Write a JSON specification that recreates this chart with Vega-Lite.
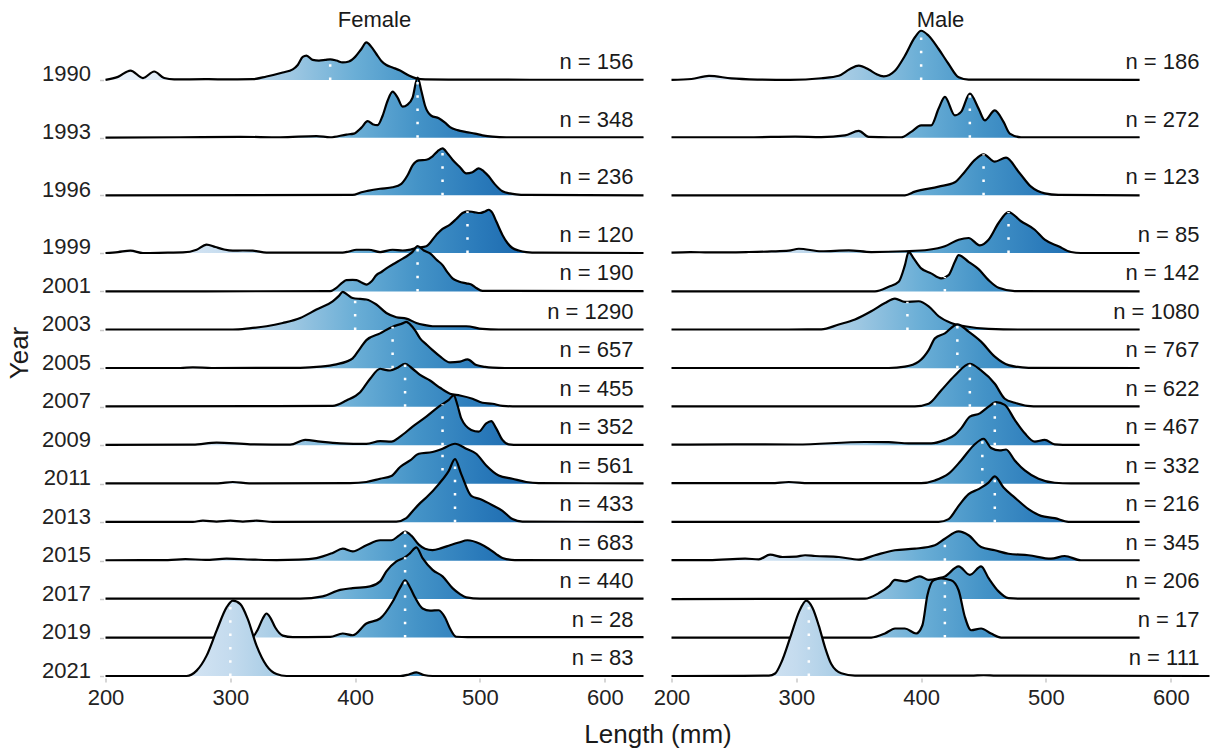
{
"$schema":"https://vega.github.io/schema/vega-lite/v6.json",
"background":"white",
"padding":{"left":6.5,"top":9,"right":0,"bottom":0},
"params":[
{"name":"gf","value":{"gradient":"linear","x1":0,"y1":0,"x2":1,"y2":0,"stops":[{"offset":0,"color":"#eef4fb"},{"offset":0.116,"color":"#dce9f6"},{"offset":0.232,"color":"#c4dbee"},{"offset":0.348,"color":"#9dc7e2"},{"offset":0.464,"color":"#6aaed6"},{"offset":0.58,"color":"#4493c7"},{"offset":0.696,"color":"#2a7aba"},{"offset":0.812,"color":"#1763aa"},{"offset":1,"color":"#08509b"}]}},
{"name":"gm","value":{"gradient":"linear","x1":0,"y1":0,"x2":1,"y2":0,"stops":[{"offset":0,"color":"#eef4fb"},{"offset":0.133,"color":"#dce9f6"},{"offset":0.267,"color":"#c4dbee"},{"offset":0.4,"color":"#9dc7e2"},{"offset":0.533,"color":"#6aaed6"},{"offset":0.667,"color":"#4493c7"},{"offset":0.8,"color":"#2a7aba"},{"offset":0.933,"color":"#1763aa"},{"offset":1,"color":"#125da5"}]}}
],
"title":{"text":"Length (mm)","orient":"bottom","anchor":"middle","frame":"group","dx":552.5,"fontSize":26,"fontWeight":"normal","color":"#1a1a1a","offset":14},
"data":{"values":[
{"s":"F","yr":1990,"x":200,"t":1990},{"s":"F","yr":1990,"x":210,"t":1989.84},{"s":"F","yr":1990,"x":220,"t":1989.51},{"s":"F","yr":1990,"x":230,"t":1989.9},{"s":"F","yr":1990,"x":239,"t":1989.56},{"s":"F","yr":1990,"x":247,"t":1989.9},{"s":"F","yr":1990,"x":255,"t":1989.97},{"s":"F","yr":1990,"x":280,"t":1989.96},{"s":"F","yr":1990,"x":300,"t":1989.97},{"s":"F","yr":1990,"x":318,"t":1989.96},{"s":"F","yr":1990,"x":329,"t":1989.82},{"s":"F","yr":1990,"x":342,"t":1989.61},{"s":"F","yr":1990,"x":350,"t":1989.45},{"s":"F","yr":1990,"x":354,"t":1989.22},{"s":"F","yr":1990,"x":358,"t":1988.8},{"s":"F","yr":1990,"x":361,"t":1988.73},{"s":"F","yr":1990,"x":366,"t":1988.96},{"s":"F","yr":1990,"x":371,"t":1988.99},{"s":"F","yr":1990,"x":376,"t":1988.96},{"s":"F","yr":1990,"x":380,"t":1988.93},{"s":"F","yr":1990,"x":385,"t":1988.99},{"s":"F","yr":1990,"x":390,"t":1989.09},{"s":"F","yr":1990,"x":395,"t":1989.04},{"s":"F","yr":1990,"x":400,"t":1988.8},{"s":"F","yr":1990,"x":405,"t":1988.39},{"s":"F","yr":1990,"x":409,"t":1988.05},{"s":"F","yr":1990,"x":413,"t":1988.28},{"s":"F","yr":1990,"x":417,"t":1988.65},{"s":"F","yr":1990,"x":421,"t":1989.01},{"s":"F","yr":1990,"x":425,"t":1989.22},{"s":"F","yr":1990,"x":430,"t":1989.35},{"s":"F","yr":1990,"x":436,"t":1989.51},{"s":"F","yr":1990,"x":443,"t":1989.77},{"s":"F","yr":1990,"x":449,"t":1989.92},{"s":"F","yr":1990,"x":456,"t":1989.97},{"s":"F","yr":1990,"x":480,"t":1989.98},{"s":"F","yr":1990,"x":540,"t":1989.99},{"s":"F","yr":1990,"x":631,"t":1989.99},
{"s":"F","yr":1993,"x":200,"t":1993},{"s":"F","yr":1993,"x":260,"t":1992.98},{"s":"F","yr":1993,"x":308,"t":1992.96},{"s":"F","yr":1993,"x":340,"t":1992.98},{"s":"F","yr":1993,"x":369,"t":1992.92},{"s":"F","yr":1993,"x":380,"t":1992.98},{"s":"F","yr":1993,"x":393,"t":1992.84},{"s":"F","yr":1993,"x":399,"t":1992.79},{"s":"F","yr":1993,"x":405,"t":1992.48},{"s":"F","yr":1993,"x":410,"t":1992.14},{"s":"F","yr":1993,"x":414,"t":1992.3},{"s":"F","yr":1993,"x":418,"t":1992.35},{"s":"F","yr":1993,"x":422,"t":1991.86},{"s":"F","yr":1993,"x":426,"t":1991.08},{"s":"F","yr":1993,"x":430,"t":1990.61},{"s":"F","yr":1993,"x":434,"t":1990.92},{"s":"F","yr":1993,"x":438,"t":1991.39},{"s":"F","yr":1993,"x":442,"t":1991.28},{"s":"F","yr":1993,"x":446,"t":1990.92},{"s":"F","yr":1993,"x":450,"t":1989.88},{"s":"F","yr":1993,"x":453,"t":1990.56},{"s":"F","yr":1993,"x":456,"t":1991.34},{"s":"F","yr":1993,"x":461,"t":1991.86},{"s":"F","yr":1993,"x":467,"t":1991.99},{"s":"F","yr":1993,"x":472,"t":1992.22},{"s":"F","yr":1993,"x":476,"t":1992.45},{"s":"F","yr":1993,"x":482,"t":1992.61},{"s":"F","yr":1993,"x":489,"t":1992.71},{"s":"F","yr":1993,"x":496,"t":1992.79},{"s":"F","yr":1993,"x":502,"t":1992.88},{"s":"F","yr":1993,"x":510,"t":1992.95},{"s":"F","yr":1993,"x":521,"t":1992.98},{"s":"F","yr":1993,"x":631,"t":1992.98},
{"s":"F","yr":1996,"x":200,"t":1996},{"s":"F","yr":1996,"x":398,"t":1995.98},{"s":"F","yr":1996,"x":405,"t":1995.84},{"s":"F","yr":1996,"x":410,"t":1995.77},{"s":"F","yr":1996,"x":420,"t":1995.66},{"s":"F","yr":1996,"x":430,"t":1995.58},{"s":"F","yr":1996,"x":437,"t":1995.4},{"s":"F","yr":1996,"x":442,"t":1994.96},{"s":"F","yr":1996,"x":446,"t":1994.44},{"s":"F","yr":1996,"x":451,"t":1994.18},{"s":"F","yr":1996,"x":457,"t":1994.15},{"s":"F","yr":1996,"x":462,"t":1993.97},{"s":"F","yr":1996,"x":466,"t":1993.71},{"s":"F","yr":1996,"x":470,"t":1993.56},{"s":"F","yr":1996,"x":474,"t":1993.82},{"s":"F","yr":1996,"x":478,"t":1994.15},{"s":"F","yr":1996,"x":484,"t":1994.54},{"s":"F","yr":1996,"x":489,"t":1994.86},{"s":"F","yr":1996,"x":494,"t":1994.8},{"s":"F","yr":1996,"x":499,"t":1994.6},{"s":"F","yr":1996,"x":503,"t":1994.75},{"s":"F","yr":1996,"x":507,"t":1995.01},{"s":"F","yr":1996,"x":512,"t":1995.43},{"s":"F","yr":1996,"x":518,"t":1995.79},{"s":"F","yr":1996,"x":524,"t":1995.9},{"s":"F","yr":1996,"x":529,"t":1995.95},{"s":"F","yr":1996,"x":537,"t":1995.98},{"s":"F","yr":1996,"x":631,"t":1996},
{"s":"F","yr":1999,"x":200,"t":1999},{"s":"F","yr":1999,"x":210,"t":1998.95},{"s":"F","yr":1999,"x":220,"t":1998.88},{"s":"F","yr":1999,"x":230,"t":1999},{"s":"F","yr":1999,"x":250,"t":1998.98},{"s":"F","yr":1999,"x":262,"t":1998.97},{"s":"F","yr":1999,"x":273,"t":1998.83},{"s":"F","yr":1999,"x":281,"t":1998.56},{"s":"F","yr":1999,"x":288,"t":1998.69},{"s":"F","yr":1999,"x":295,"t":1998.82},{"s":"F","yr":1999,"x":302,"t":1998.88},{"s":"F","yr":1999,"x":310,"t":1998.87},{"s":"F","yr":1999,"x":318,"t":1998.88},{"s":"F","yr":1999,"x":329,"t":1998.98},{"s":"F","yr":1999,"x":390,"t":1998.98},{"s":"F","yr":1999,"x":395,"t":1998.92},{"s":"F","yr":1999,"x":401,"t":1998.83},{"s":"F","yr":1999,"x":411,"t":1998.83},{"s":"F","yr":1999,"x":420,"t":1998.95},{"s":"F","yr":1999,"x":430,"t":1998.83},{"s":"F","yr":1999,"x":438,"t":1998.87},{"s":"F","yr":1999,"x":443,"t":1998.84},{"s":"F","yr":1999,"x":449,"t":1998.74},{"s":"F","yr":1999,"x":457,"t":1998.65},{"s":"F","yr":1999,"x":465,"t":1998.06},{"s":"F","yr":1999,"x":470,"t":1997.75},{"s":"F","yr":1999,"x":476,"t":1997.52},{"s":"F","yr":1999,"x":481,"t":1997.23},{"s":"F","yr":1999,"x":486,"t":1996.92},{"s":"F","yr":1999,"x":490,"t":1996.83},{"s":"F","yr":1999,"x":495,"t":1996.87},{"s":"F","yr":1999,"x":500,"t":1996.92},{"s":"F","yr":1999,"x":504,"t":1996.84},{"s":"F","yr":1999,"x":507,"t":1996.75},{"s":"F","yr":1999,"x":510,"t":1996.92},{"s":"F","yr":1999,"x":513,"t":1997.35},{"s":"F","yr":1999,"x":518,"t":1998.06},{"s":"F","yr":1999,"x":522,"t":1998.48},{"s":"F","yr":1999,"x":526,"t":1998.74},{"s":"F","yr":1999,"x":531,"t":1998.87},{"s":"F","yr":1999,"x":537,"t":1998.95},{"s":"F","yr":1999,"x":547,"t":1998.98},{"s":"F","yr":1999,"x":631,"t":1999},
{"s":"F","yr":2001,"x":200,"t":2001},{"s":"F","yr":2001,"x":380,"t":2000.98},{"s":"F","yr":2001,"x":385,"t":2000.81},{"s":"F","yr":2001,"x":390,"t":2000.53},{"s":"F","yr":2001,"x":393,"t":2000.41},{"s":"F","yr":2001,"x":398,"t":2000.4},{"s":"F","yr":2001,"x":401,"t":2000.41},{"s":"F","yr":2001,"x":405,"t":2000.53},{"s":"F","yr":2001,"x":409,"t":2000.64},{"s":"F","yr":2001,"x":413,"t":2000.48},{"s":"F","yr":2001,"x":417,"t":2000.15},{"s":"F","yr":2001,"x":421,"t":1999.99},{"s":"F","yr":2001,"x":425,"t":1999.8},{"s":"F","yr":2001,"x":430,"t":1999.6},{"s":"F","yr":2001,"x":436,"t":1999.37},{"s":"F","yr":2001,"x":441,"t":1999.18},{"s":"F","yr":2001,"x":446,"t":1998.94},{"s":"F","yr":2001,"x":450,"t":1998.64},{"s":"F","yr":2001,"x":455,"t":1998.87},{"s":"F","yr":2001,"x":460,"t":1999.02},{"s":"F","yr":2001,"x":465,"t":1999.34},{"s":"F","yr":2001,"x":470,"t":1999.63},{"s":"F","yr":2001,"x":474,"t":2000.01},{"s":"F","yr":2001,"x":478,"t":2000.32},{"s":"F","yr":2001,"x":483,"t":2000.48},{"s":"F","yr":2001,"x":489,"t":2000.58},{"s":"F","yr":2001,"x":493,"t":2000.64},{"s":"F","yr":2001,"x":497,"t":2000.82},{"s":"F","yr":2001,"x":502,"t":2000.97},{"s":"F","yr":2001,"x":631,"t":2000.98},
{"s":"F","yr":2003,"x":200,"t":2002.98},{"s":"F","yr":2003,"x":302,"t":2002.98},{"s":"F","yr":2003,"x":315,"t":2002.92},{"s":"F","yr":2003,"x":329,"t":2002.81},{"s":"F","yr":2003,"x":342,"t":2002.64},{"s":"F","yr":2003,"x":356,"t":2002.38},{"s":"F","yr":2003,"x":369,"t":2001.94},{"s":"F","yr":2003,"x":382,"t":2001.51},{"s":"F","yr":2003,"x":387,"t":2001.23},{"s":"F","yr":2003,"x":390,"t":2001.02},{"s":"F","yr":2003,"x":394,"t":2001.18},{"s":"F","yr":2003,"x":398,"t":2001.34},{"s":"F","yr":2003,"x":404,"t":2001.39},{"s":"F","yr":2003,"x":409,"t":2001.42},{"s":"F","yr":2003,"x":417,"t":2001.68},{"s":"F","yr":2003,"x":425,"t":2002.12},{"s":"F","yr":2003,"x":433,"t":2002.34},{"s":"F","yr":2003,"x":441,"t":2002.41},{"s":"F","yr":2003,"x":449,"t":2002.64},{"s":"F","yr":2003,"x":455,"t":2002.74},{"s":"F","yr":2003,"x":462,"t":2002.81},{"s":"F","yr":2003,"x":475,"t":2002.81},{"s":"F","yr":2003,"x":489,"t":2002.81},{"s":"F","yr":2003,"x":502,"t":2002.95},{"s":"F","yr":2003,"x":515,"t":2002.98},{"s":"F","yr":2003,"x":631,"t":2002.98},
{"s":"F","yr":2005,"x":200,"t":2004.98},{"s":"F","yr":2005,"x":260,"t":2004.98},{"s":"F","yr":2005,"x":270,"t":2004.95},{"s":"F","yr":2005,"x":285,"t":2004.98},{"s":"F","yr":2005,"x":356,"t":2004.97},{"s":"F","yr":2005,"x":372,"t":2004.91},{"s":"F","yr":2005,"x":385,"t":2004.79},{"s":"F","yr":2005,"x":393,"t":2004.65},{"s":"F","yr":2005,"x":398,"t":2004.48},{"s":"F","yr":2005,"x":404,"t":2003.96},{"s":"F","yr":2005,"x":409,"t":2003.53},{"s":"F","yr":2005,"x":420,"t":2003.18},{"s":"F","yr":2005,"x":430,"t":2002.83},{"s":"F","yr":2005,"x":438,"t":2002.66},{"s":"F","yr":2005,"x":441,"t":2002.58},{"s":"F","yr":2005,"x":444,"t":2002.71},{"s":"F","yr":2005,"x":448,"t":2003.02},{"s":"F","yr":2005,"x":452,"t":2003.44},{"s":"F","yr":2005,"x":457,"t":2003.75},{"s":"F","yr":2005,"x":462,"t":2004.05},{"s":"F","yr":2005,"x":468,"t":2004.38},{"s":"F","yr":2005,"x":476,"t":2004.69},{"s":"F","yr":2005,"x":484,"t":2004.65},{"s":"F","yr":2005,"x":490,"t":2004.53},{"s":"F","yr":2005,"x":497,"t":2004.83},{"s":"F","yr":2005,"x":504,"t":2004.92},{"s":"F","yr":2005,"x":510,"t":2004.96},{"s":"F","yr":2005,"x":520,"t":2004.98},{"s":"F","yr":2005,"x":631,"t":2004.98},
{"s":"F","yr":2007,"x":200,"t":2006.98},{"s":"F","yr":2007,"x":382,"t":2006.95},{"s":"F","yr":2007,"x":393,"t":2006.67},{"s":"F","yr":2007,"x":404,"t":2006.24},{"s":"F","yr":2007,"x":412,"t":2005.54},{"s":"F","yr":2007,"x":420,"t":2005.02},{"s":"F","yr":2007,"x":424,"t":2005.08},{"s":"F","yr":2007,"x":428,"t":2005.11},{"s":"F","yr":2007,"x":434,"t":2004.97},{"s":"F","yr":2007,"x":440,"t":2004.76},{"s":"F","yr":2007,"x":446,"t":2005.02},{"s":"F","yr":2007,"x":452,"t":2005.34},{"s":"F","yr":2007,"x":460,"t":2005.63},{"s":"F","yr":2007,"x":468,"t":2006.01},{"s":"F","yr":2007,"x":476,"t":2006.32},{"s":"F","yr":2007,"x":484,"t":2006.41},{"s":"F","yr":2007,"x":494,"t":2006.58},{"s":"F","yr":2007,"x":502,"t":2006.79},{"s":"F","yr":2007,"x":510,"t":2006.84},{"s":"F","yr":2007,"x":518,"t":2006.95},{"s":"F","yr":2007,"x":530,"t":2006.98},{"s":"F","yr":2007,"x":631,"t":2006.98},
{"s":"F","yr":2009,"x":200,"t":2008.98},{"s":"F","yr":2009,"x":270,"t":2008.97},{"s":"F","yr":2009,"x":289,"t":2008.86},{"s":"F","yr":2009,"x":316,"t":2008.95},{"s":"F","yr":2009,"x":348,"t":2008.97},{"s":"F","yr":2009,"x":360,"t":2008.72},{"s":"F","yr":2009,"x":372,"t":2008.81},{"s":"F","yr":2009,"x":388,"t":2008.9},{"s":"F","yr":2009,"x":409,"t":2008.93},{"s":"F","yr":2009,"x":420,"t":2008.78},{"s":"F","yr":2009,"x":429,"t":2008.81},{"s":"F","yr":2009,"x":436,"t":2008.55},{"s":"F","yr":2009,"x":446,"t":2008.03},{"s":"F","yr":2009,"x":457,"t":2007.51},{"s":"F","yr":2009,"x":467,"t":2006.99},{"s":"F","yr":2009,"x":475,"t":2006.64},{"s":"F","yr":2009,"x":479,"t":2006.4},{"s":"F","yr":2009,"x":482,"t":2006.92},{"s":"F","yr":2009,"x":485,"t":2007.6},{"s":"F","yr":2009,"x":493,"t":2008.2},{"s":"F","yr":2009,"x":499,"t":2008.29},{"s":"F","yr":2009,"x":505,"t":2007.86},{"s":"F","yr":2009,"x":509,"t":2007.74},{"s":"F","yr":2009,"x":513,"t":2008.12},{"s":"F","yr":2009,"x":518,"t":2008.72},{"s":"F","yr":2009,"x":523,"t":2008.95},{"s":"F","yr":2009,"x":531,"t":2008.98},{"s":"F","yr":2009,"x":631,"t":2008.98},
{"s":"F","yr":2011,"x":200,"t":2010.98},{"s":"F","yr":2011,"x":290,"t":2010.98},{"s":"F","yr":2011,"x":302,"t":2010.91},{"s":"F","yr":2011,"x":315,"t":2010.98},{"s":"F","yr":2011,"x":396,"t":2010.97},{"s":"F","yr":2011,"x":409,"t":2010.91},{"s":"F","yr":2011,"x":420,"t":2010.74},{"s":"F","yr":2011,"x":429,"t":2010.6},{"s":"F","yr":2011,"x":436,"t":2010.13},{"s":"F","yr":2011,"x":444,"t":2009.79},{"s":"F","yr":2011,"x":451,"t":2009.44},{"s":"F","yr":2011,"x":462,"t":2009.35},{"s":"F","yr":2011,"x":470,"t":2009.18},{"s":"F","yr":2011,"x":480,"t":2008.92},{"s":"F","yr":2011,"x":489,"t":2009.18},{"s":"F","yr":2011,"x":497,"t":2009.44},{"s":"F","yr":2011,"x":505,"t":2010.05},{"s":"F","yr":2011,"x":515,"t":2010.57},{"s":"F","yr":2011,"x":526,"t":2010.74},{"s":"F","yr":2011,"x":537,"t":2010.91},{"s":"F","yr":2011,"x":547,"t":2010.97},{"s":"F","yr":2011,"x":631,"t":2010.98},
{"s":"F","yr":2013,"x":200,"t":2012.98},{"s":"F","yr":2013,"x":270,"t":2012.98},{"s":"F","yr":2013,"x":278,"t":2012.92},{"s":"F","yr":2013,"x":289,"t":2012.97},{"s":"F","yr":2013,"x":300,"t":2012.92},{"s":"F","yr":2013,"x":310,"t":2012.97},{"s":"F","yr":2013,"x":321,"t":2012.92},{"s":"F","yr":2013,"x":334,"t":2012.98},{"s":"F","yr":2013,"x":433,"t":2012.97},{"s":"F","yr":2013,"x":441,"t":2012.79},{"s":"F","yr":2013,"x":446,"t":2012.43},{"s":"F","yr":2013,"x":452,"t":2012.01},{"s":"F","yr":2013,"x":457,"t":2011.72},{"s":"F","yr":2013,"x":467,"t":2011.02},{"s":"F","yr":2013,"x":475,"t":2010.33},{"s":"F","yr":2013,"x":480,"t":2009.72},{"s":"F","yr":2013,"x":485,"t":2010.5},{"s":"F","yr":2013,"x":493,"t":2011.63},{"s":"F","yr":2013,"x":500,"t":2011.8},{"s":"F","yr":2013,"x":510,"t":2012.12},{"s":"F","yr":2013,"x":518,"t":2012.41},{"s":"F","yr":2013,"x":526,"t":2012.84},{"s":"F","yr":2013,"x":534,"t":2012.97},{"s":"F","yr":2013,"x":631,"t":2012.98},
{"s":"F","yr":2015,"x":200,"t":2014.98},{"s":"F","yr":2015,"x":250,"t":2014.97},{"s":"F","yr":2015,"x":264,"t":2014.92},{"s":"F","yr":2015,"x":280,"t":2014.96},{"s":"F","yr":2015,"x":297,"t":2014.9},{"s":"F","yr":2015,"x":320,"t":2014.95},{"s":"F","yr":2015,"x":337,"t":2014.97},{"s":"F","yr":2015,"x":355,"t":2014.95},{"s":"F","yr":2015,"x":369,"t":2014.87},{"s":"F","yr":2015,"x":382,"t":2014.6},{"s":"F","yr":2015,"x":390,"t":2014.38},{"s":"F","yr":2015,"x":398,"t":2014.52},{"s":"F","yr":2015,"x":409,"t":2014.2},{"s":"F","yr":2015,"x":420,"t":2013.94},{"s":"F","yr":2015,"x":429,"t":2013.94},{"s":"F","yr":2015,"x":435,"t":2013.7},{"s":"F","yr":2015,"x":440,"t":2013.49},{"s":"F","yr":2015,"x":445,"t":2013.7},{"s":"F","yr":2015,"x":451,"t":2014.17},{"s":"F","yr":2015,"x":456,"t":2014.38},{"s":"F","yr":2015,"x":462,"t":2014.45},{"s":"F","yr":2015,"x":469,"t":2014.35},{"s":"F","yr":2015,"x":476,"t":2014.2},{"s":"F","yr":2015,"x":483,"t":2014.06},{"s":"F","yr":2015,"x":490,"t":2013.94},{"s":"F","yr":2015,"x":500,"t":2014.12},{"s":"F","yr":2015,"x":507,"t":2014.38},{"s":"F","yr":2015,"x":513,"t":2014.66},{"s":"F","yr":2015,"x":518,"t":2014.86},{"s":"F","yr":2015,"x":528,"t":2014.97},{"s":"F","yr":2015,"x":631,"t":2014.98},
{"s":"F","yr":2017,"x":200,"t":2016.98},{"s":"F","yr":2017,"x":356,"t":2016.98},{"s":"F","yr":2017,"x":374,"t":2016.86},{"s":"F","yr":2017,"x":388,"t":2016.52},{"s":"F","yr":2017,"x":398,"t":2016.43},{"s":"F","yr":2017,"x":412,"t":2016.34},{"s":"F","yr":2017,"x":420,"t":2016.08},{"s":"F","yr":2017,"x":425,"t":2015.56},{"s":"F","yr":2017,"x":433,"t":2015.04},{"s":"F","yr":2017,"x":440,"t":2014.82},{"s":"F","yr":2017,"x":444,"t":2014.61},{"s":"F","yr":2017,"x":449,"t":2014.31},{"s":"F","yr":2017,"x":454,"t":2014.87},{"s":"F","yr":2017,"x":462,"t":2015.48},{"s":"F","yr":2017,"x":470,"t":2015.82},{"s":"F","yr":2017,"x":478,"t":2016.43},{"s":"F","yr":2017,"x":484,"t":2016.74},{"s":"F","yr":2017,"x":489,"t":2016.91},{"s":"F","yr":2017,"x":500,"t":2016.98},{"s":"F","yr":2017,"x":631,"t":2016.98},
{"s":"F","yr":2019,"x":200,"t":2019},{"s":"F","yr":2019,"x":312,"t":2019},{"s":"F","yr":2019,"x":318,"t":2018.95},{"s":"F","yr":2019,"x":322,"t":2018.58},{"s":"F","yr":2019,"x":326,"t":2018.01},{"s":"F","yr":2019,"x":329,"t":2017.75},{"s":"F","yr":2019,"x":332,"t":2017.96},{"s":"F","yr":2019,"x":336,"t":2018.48},{"s":"F","yr":2019,"x":342,"t":2018.9},{"s":"F","yr":2019,"x":350,"t":2018.98},{"s":"F","yr":2019,"x":380,"t":2018.97},{"s":"F","yr":2019,"x":390,"t":2018.79},{"s":"F","yr":2019,"x":398,"t":2018.88},{"s":"F","yr":2019,"x":409,"t":2018.27},{"s":"F","yr":2019,"x":420,"t":2018.01},{"s":"F","yr":2019,"x":430,"t":2017.14},{"s":"F","yr":2019,"x":436,"t":2016.4},{"s":"F","yr":2019,"x":440,"t":2016.02},{"s":"F","yr":2019,"x":444,"t":2016.4},{"s":"F","yr":2019,"x":448,"t":2016.92},{"s":"F","yr":2019,"x":454,"t":2017.49},{"s":"F","yr":2019,"x":460,"t":2017.6},{"s":"F","yr":2019,"x":467,"t":2017.58},{"s":"F","yr":2019,"x":472,"t":2017.96},{"s":"F","yr":2019,"x":476,"t":2018.53},{"s":"F","yr":2019,"x":481,"t":2018.96},{"s":"F","yr":2019,"x":490,"t":2018.98},{"s":"F","yr":2019,"x":631,"t":2018.98},
{"s":"F","yr":2021,"x":200,"t":2021},{"s":"F","yr":2021,"x":265,"t":2021},{"s":"F","yr":2021,"x":273,"t":2020.72},{"s":"F","yr":2021,"x":281,"t":2019.94},{"s":"F","yr":2021,"x":289,"t":2018.64},{"s":"F","yr":2021,"x":297,"t":2017.43},{"s":"F","yr":2021,"x":302,"t":2017.08},{"s":"F","yr":2021,"x":308,"t":2017.26},{"s":"F","yr":2021,"x":314,"t":2018.04},{"s":"F","yr":2021,"x":321,"t":2019.42},{"s":"F","yr":2021,"x":329,"t":2020.46},{"s":"F","yr":2021,"x":337,"t":2020.9},{"s":"F","yr":2021,"x":345,"t":2021},{"s":"F","yr":2021,"x":436,"t":2021},{"s":"F","yr":2021,"x":443,"t":2020.92},{"s":"F","yr":2021,"x":449,"t":2020.81},{"s":"F","yr":2021,"x":455,"t":2020.95},{"s":"F","yr":2021,"x":462,"t":2021},{"s":"F","yr":2021,"x":631,"t":2021},
{"s":"M","yr":1990,"x":200,"t":1990},{"s":"M","yr":1990,"x":216,"t":1989.95},{"s":"M","yr":1990,"x":230,"t":1989.79},{"s":"M","yr":1990,"x":248,"t":1989.92},{"s":"M","yr":1990,"x":270,"t":1989.98},{"s":"M","yr":1990,"x":295,"t":1990},{"s":"M","yr":1990,"x":320,"t":1989.91},{"s":"M","yr":1990,"x":334,"t":1989.78},{"s":"M","yr":1990,"x":343,"t":1989.43},{"s":"M","yr":1990,"x":350,"t":1989.26},{"s":"M","yr":1990,"x":358,"t":1989.46},{"s":"M","yr":1990,"x":364,"t":1989.69},{"s":"M","yr":1990,"x":370,"t":1989.81},{"s":"M","yr":1990,"x":379,"t":1989.52},{"s":"M","yr":1990,"x":387,"t":1988.74},{"s":"M","yr":1990,"x":395,"t":1987.78},{"s":"M","yr":1990,"x":400,"t":1987.44},{"s":"M","yr":1990,"x":406,"t":1987.7},{"s":"M","yr":1990,"x":414,"t":1988.39},{"s":"M","yr":1990,"x":422,"t":1989.17},{"s":"M","yr":1990,"x":430,"t":1989.86},{"s":"M","yr":1990,"x":438,"t":1989.98},{"s":"M","yr":1990,"x":575,"t":1990},
{"s":"M","yr":1993,"x":200,"t":1992.98},{"s":"M","yr":1993,"x":260,"t":1992.98},{"s":"M","yr":1993,"x":299,"t":1992.95},{"s":"M","yr":1993,"x":320,"t":1992.97},{"s":"M","yr":1993,"x":339,"t":1992.88},{"s":"M","yr":1993,"x":350,"t":1992.65},{"s":"M","yr":1993,"x":358,"t":1992.96},{"s":"M","yr":1993,"x":374,"t":1992.98},{"s":"M","yr":1993,"x":384,"t":1992.98},{"s":"M","yr":1993,"x":392,"t":1992.7},{"s":"M","yr":1993,"x":400,"t":1992.36},{"s":"M","yr":1993,"x":408,"t":1992.36},{"s":"M","yr":1993,"x":414,"t":1991.49},{"s":"M","yr":1993,"x":419,"t":1990.88},{"s":"M","yr":1993,"x":427,"t":1991.84},{"s":"M","yr":1993,"x":432,"t":1991.66},{"s":"M","yr":1993,"x":439,"t":1990.71},{"s":"M","yr":1993,"x":446,"t":1991.49},{"s":"M","yr":1993,"x":451,"t":1992.1},{"s":"M","yr":1993,"x":459,"t":1991.58},{"s":"M","yr":1993,"x":466,"t":1992.18},{"s":"M","yr":1993,"x":471,"t":1992.79},{"s":"M","yr":1993,"x":480,"t":1992.98},{"s":"M","yr":1993,"x":575,"t":1992.98},
{"s":"M","yr":1996,"x":200,"t":1996},{"s":"M","yr":1996,"x":387,"t":1996},{"s":"M","yr":1996,"x":395,"t":1995.81},{"s":"M","yr":1996,"x":414,"t":1995.55},{"s":"M","yr":1996,"x":427,"t":1995.32},{"s":"M","yr":1996,"x":435,"t":1994.77},{"s":"M","yr":1996,"x":443,"t":1994.16},{"s":"M","yr":1996,"x":450,"t":1993.87},{"s":"M","yr":1996,"x":459,"t":1994.25},{"s":"M","yr":1996,"x":468,"t":1994.04},{"s":"M","yr":1996,"x":478,"t":1994.77},{"s":"M","yr":1996,"x":488,"t":1995.55},{"s":"M","yr":1996,"x":499,"t":1995.9},{"s":"M","yr":1996,"x":510,"t":1995.98},{"s":"M","yr":1996,"x":575,"t":1996},
{"s":"M","yr":1999,"x":200,"t":1998.98},{"s":"M","yr":1999,"x":215,"t":1998.95},{"s":"M","yr":1999,"x":230,"t":1998.97},{"s":"M","yr":1999,"x":260,"t":1998.95},{"s":"M","yr":1999,"x":280,"t":1998.92},{"s":"M","yr":1999,"x":294,"t":1998.88},{"s":"M","yr":1999,"x":302,"t":1998.78},{"s":"M","yr":1999,"x":320,"t":1998.91},{"s":"M","yr":1999,"x":342,"t":1998.86},{"s":"M","yr":1999,"x":360,"t":1998.95},{"s":"M","yr":1999,"x":387,"t":1998.91},{"s":"M","yr":1999,"x":406,"t":1998.83},{"s":"M","yr":1999,"x":419,"t":1998.65},{"s":"M","yr":1999,"x":430,"t":1998.31},{"s":"M","yr":1999,"x":438,"t":1998.22},{"s":"M","yr":1999,"x":447,"t":1998.6},{"s":"M","yr":1999,"x":454,"t":1998.31},{"s":"M","yr":1999,"x":462,"t":1997.44},{"s":"M","yr":1999,"x":470,"t":1996.87},{"s":"M","yr":1999,"x":480,"t":1997.35},{"s":"M","yr":1999,"x":491,"t":1997.79},{"s":"M","yr":1999,"x":499,"t":1998.31},{"s":"M","yr":1999,"x":510,"t":1998.65},{"s":"M","yr":1999,"x":520,"t":1998.95},{"s":"M","yr":1999,"x":528,"t":1999},{"s":"M","yr":1999,"x":575,"t":1999},
{"s":"M","yr":2001,"x":200,"t":2001},{"s":"M","yr":2001,"x":363,"t":2001},{"s":"M","yr":2001,"x":374,"t":2000.76},{"s":"M","yr":2001,"x":382,"t":2000.5},{"s":"M","yr":2001,"x":387,"t":1999.63},{"s":"M","yr":2001,"x":390,"t":1998.94},{"s":"M","yr":2001,"x":394,"t":1999.28},{"s":"M","yr":2001,"x":400,"t":1999.8},{"s":"M","yr":2001,"x":408,"t":2000.06},{"s":"M","yr":2001,"x":416,"t":2000.32},{"s":"M","yr":2001,"x":422,"t":2000.15},{"s":"M","yr":2001,"x":427,"t":1999.46},{"s":"M","yr":2001,"x":430,"t":1999.11},{"s":"M","yr":2001,"x":438,"t":1999.46},{"s":"M","yr":2001,"x":446,"t":1999.84},{"s":"M","yr":2001,"x":454,"t":2000.41},{"s":"M","yr":2001,"x":462,"t":2000.81},{"s":"M","yr":2001,"x":475,"t":2000.98},{"s":"M","yr":2001,"x":575,"t":2001},
{"s":"M","yr":2003,"x":200,"t":2002.98},{"s":"M","yr":2003,"x":294,"t":2002.98},{"s":"M","yr":2003,"x":320,"t":2002.97},{"s":"M","yr":2003,"x":334,"t":2002.72},{"s":"M","yr":2003,"x":347,"t":2002.46},{"s":"M","yr":2003,"x":360,"t":2002.03},{"s":"M","yr":2003,"x":371,"t":2001.6},{"s":"M","yr":2003,"x":379,"t":2001.37},{"s":"M","yr":2003,"x":387,"t":2001.54},{"s":"M","yr":2003,"x":398,"t":2001.51},{"s":"M","yr":2003,"x":406,"t":2001.77},{"s":"M","yr":2003,"x":414,"t":2002.29},{"s":"M","yr":2003,"x":424,"t":2002.64},{"s":"M","yr":2003,"x":435,"t":2002.81},{"s":"M","yr":2003,"x":454,"t":2002.95},{"s":"M","yr":2003,"x":480,"t":2002.98},{"s":"M","yr":2003,"x":575,"t":2002.98},
{"s":"M","yr":2005,"x":200,"t":2004.98},{"s":"M","yr":2005,"x":374,"t":2004.98},{"s":"M","yr":2005,"x":387,"t":2004.91},{"s":"M","yr":2005,"x":398,"t":2004.65},{"s":"M","yr":2005,"x":406,"t":2004.05},{"s":"M","yr":2005,"x":411,"t":2003.44},{"s":"M","yr":2005,"x":419,"t":2003.18},{"s":"M","yr":2005,"x":429,"t":2002.71},{"s":"M","yr":2005,"x":438,"t":2003.09},{"s":"M","yr":2005,"x":448,"t":2003.61},{"s":"M","yr":2005,"x":459,"t":2004.39},{"s":"M","yr":2005,"x":470,"t":2004.83},{"s":"M","yr":2005,"x":486,"t":2004.97},{"s":"M","yr":2005,"x":575,"t":2004.98},
{"s":"M","yr":2007,"x":200,"t":2006.98},{"s":"M","yr":2007,"x":395,"t":2006.98},{"s":"M","yr":2007,"x":406,"t":2006.84},{"s":"M","yr":2007,"x":416,"t":2006.15},{"s":"M","yr":2007,"x":427,"t":2005.37},{"s":"M","yr":2007,"x":439,"t":2004.76},{"s":"M","yr":2007,"x":448,"t":2005.11},{"s":"M","yr":2007,"x":459,"t":2005.8},{"s":"M","yr":2007,"x":467,"t":2006.58},{"s":"M","yr":2007,"x":475,"t":2006.79},{"s":"M","yr":2007,"x":485,"t":2006.95},{"s":"M","yr":2007,"x":495,"t":2006.98},{"s":"M","yr":2007,"x":575,"t":2006.98},
{"s":"M","yr":2009,"x":200,"t":2008.97},{"s":"M","yr":2009,"x":250,"t":2008.95},{"s":"M","yr":2009,"x":300,"t":2008.96},{"s":"M","yr":2009,"x":355,"t":2008.83},{"s":"M","yr":2009,"x":374,"t":2008.84},{"s":"M","yr":2009,"x":390,"t":2008.9},{"s":"M","yr":2009,"x":408,"t":2008.9},{"s":"M","yr":2009,"x":419,"t":2008.72},{"s":"M","yr":2009,"x":427,"t":2008.46},{"s":"M","yr":2009,"x":432,"t":2008.12},{"s":"M","yr":2009,"x":439,"t":2007.51},{"s":"M","yr":2009,"x":447,"t":2007.34},{"s":"M","yr":2009,"x":454,"t":2006.99},{"s":"M","yr":2009,"x":460,"t":2006.76},{"s":"M","yr":2009,"x":467,"t":2006.9},{"s":"M","yr":2009,"x":475,"t":2007.68},{"s":"M","yr":2009,"x":483,"t":2008.38},{"s":"M","yr":2009,"x":491,"t":2008.81},{"s":"M","yr":2009,"x":499,"t":2008.72},{"s":"M","yr":2009,"x":507,"t":2008.95},{"s":"M","yr":2009,"x":520,"t":2008.98},{"s":"M","yr":2009,"x":575,"t":2008.98},
{"s":"M","yr":2011,"x":200,"t":2010.97},{"s":"M","yr":2011,"x":280,"t":2010.97},{"s":"M","yr":2011,"x":294,"t":2010.91},{"s":"M","yr":2011,"x":310,"t":2010.97},{"s":"M","yr":2011,"x":400,"t":2010.97},{"s":"M","yr":2011,"x":411,"t":2010.83},{"s":"M","yr":2011,"x":422,"t":2010.48},{"s":"M","yr":2011,"x":432,"t":2009.79},{"s":"M","yr":2011,"x":442,"t":2009.01},{"s":"M","yr":2011,"x":450,"t":2008.66},{"s":"M","yr":2011,"x":456,"t":2009.14},{"s":"M","yr":2011,"x":463,"t":2009.27},{"s":"M","yr":2011,"x":468,"t":2009.22},{"s":"M","yr":2011,"x":475,"t":2009.79},{"s":"M","yr":2011,"x":483,"t":2010.31},{"s":"M","yr":2011,"x":494,"t":2010.74},{"s":"M","yr":2011,"x":507,"t":2010.95},{"s":"M","yr":2011,"x":520,"t":2010.98},{"s":"M","yr":2011,"x":575,"t":2010.98},
{"s":"M","yr":2013,"x":200,"t":2012.98},{"s":"M","yr":2013,"x":414,"t":2012.98},{"s":"M","yr":2013,"x":422,"t":2012.84},{"s":"M","yr":2013,"x":430,"t":2012.15},{"s":"M","yr":2013,"x":438,"t":2011.54},{"s":"M","yr":2013,"x":446,"t":2011.28},{"s":"M","yr":2013,"x":454,"t":2010.94},{"s":"M","yr":2013,"x":459,"t":2010.62},{"s":"M","yr":2013,"x":466,"t":2011.2},{"s":"M","yr":2013,"x":475,"t":2011.72},{"s":"M","yr":2013,"x":486,"t":2012.32},{"s":"M","yr":2013,"x":496,"t":2012.67},{"s":"M","yr":2013,"x":507,"t":2012.79},{"s":"M","yr":2013,"x":518,"t":2012.98},{"s":"M","yr":2013,"x":575,"t":2012.98},
{"s":"M","yr":2015,"x":200,"t":2014.97},{"s":"M","yr":2015,"x":230,"t":2014.97},{"s":"M","yr":2015,"x":259,"t":2014.9},{"s":"M","yr":2015,"x":270,"t":2014.93},{"s":"M","yr":2015,"x":279,"t":2014.69},{"s":"M","yr":2015,"x":289,"t":2014.81},{"s":"M","yr":2015,"x":300,"t":2014.79},{"s":"M","yr":2015,"x":307,"t":2014.72},{"s":"M","yr":2015,"x":315,"t":2014.76},{"s":"M","yr":2015,"x":334,"t":2014.81},{"s":"M","yr":2015,"x":350,"t":2014.95},{"s":"M","yr":2015,"x":363,"t":2014.72},{"s":"M","yr":2015,"x":379,"t":2014.46},{"s":"M","yr":2015,"x":395,"t":2014.38},{"s":"M","yr":2015,"x":411,"t":2014.2},{"s":"M","yr":2015,"x":419,"t":2013.86},{"s":"M","yr":2015,"x":430,"t":2013.48},{"s":"M","yr":2015,"x":438,"t":2013.68},{"s":"M","yr":2015,"x":448,"t":2014.29},{"s":"M","yr":2015,"x":459,"t":2014.46},{"s":"M","yr":2015,"x":470,"t":2014.64},{"s":"M","yr":2015,"x":486,"t":2014.72},{"s":"M","yr":2015,"x":504,"t":2014.9},{"s":"M","yr":2015,"x":515,"t":2014.76},{"s":"M","yr":2015,"x":528,"t":2014.98},{"s":"M","yr":2015,"x":575,"t":2014.98},
{"s":"M","yr":2017,"x":200,"t":2017},{"s":"M","yr":2017,"x":355,"t":2016.98},{"s":"M","yr":2017,"x":366,"t":2016.69},{"s":"M","yr":2017,"x":374,"t":2016.34},{"s":"M","yr":2017,"x":379,"t":2016},{"s":"M","yr":2017,"x":387,"t":2016.08},{"s":"M","yr":2017,"x":399,"t":2015.82},{"s":"M","yr":2017,"x":406,"t":2016},{"s":"M","yr":2017,"x":414,"t":2015.91},{"s":"M","yr":2017,"x":419,"t":2015.82},{"s":"M","yr":2017,"x":430,"t":2015.3},{"s":"M","yr":2017,"x":439,"t":2015.74},{"s":"M","yr":2017,"x":448,"t":2015.3},{"s":"M","yr":2017,"x":454,"t":2015.91},{"s":"M","yr":2017,"x":462,"t":2016.6},{"s":"M","yr":2017,"x":470,"t":2016.95},{"s":"M","yr":2017,"x":480,"t":2016.98},{"s":"M","yr":2017,"x":575,"t":2016.98},
{"s":"M","yr":2019,"x":200,"t":2019},{"s":"M","yr":2019,"x":360,"t":2019},{"s":"M","yr":2019,"x":371,"t":2018.79},{"s":"M","yr":2019,"x":379,"t":2018.53},{"s":"M","yr":2019,"x":387,"t":2018.53},{"s":"M","yr":2019,"x":396,"t":2018.79},{"s":"M","yr":2019,"x":401,"t":2018.36},{"s":"M","yr":2019,"x":405,"t":2016.8},{"s":"M","yr":2019,"x":410,"t":2016.02},{"s":"M","yr":2019,"x":416,"t":2015.93},{"s":"M","yr":2019,"x":424,"t":2016.02},{"s":"M","yr":2019,"x":430,"t":2016.54},{"s":"M","yr":2019,"x":435,"t":2017.92},{"s":"M","yr":2019,"x":440,"t":2018.62},{"s":"M","yr":2019,"x":448,"t":2018.53},{"s":"M","yr":2019,"x":456,"t":2018.79},{"s":"M","yr":2019,"x":464,"t":2019},{"s":"M","yr":2019,"x":575,"t":2019},
{"s":"M","yr":2021,"x":200,"t":2021},{"s":"M","yr":2021,"x":278,"t":2020.98},{"s":"M","yr":2021,"x":283,"t":2020.87},{"s":"M","yr":2021,"x":288,"t":2020.29},{"s":"M","yr":2021,"x":296,"t":2018.82},{"s":"M","yr":2021,"x":302,"t":2017.69},{"s":"M","yr":2021,"x":308,"t":2017.08},{"s":"M","yr":2021,"x":313,"t":2017.46},{"s":"M","yr":2021,"x":318,"t":2018.38},{"s":"M","yr":2021,"x":323,"t":2019.51},{"s":"M","yr":2021,"x":328,"t":2020.38},{"s":"M","yr":2021,"x":336,"t":2020.86},{"s":"M","yr":2021,"x":347,"t":2020.98},{"s":"M","yr":2021,"x":440,"t":2020.98},{"s":"M","yr":2021,"x":450,"t":2020.96},{"s":"M","yr":2021,"x":460,"t":2020.98},{"s":"M","yr":2021,"x":631,"t":2021},
{"s":"F","yr":1990,"k":"m","x":380,"t":1988.93},{"s":"F","yr":1993,"k":"m","x":450,"t":1989.88},{"s":"F","yr":1996,"k":"m","x":470,"t":1993.56},{"s":"F","yr":1999,"k":"m","x":490,"t":1996.83},{"s":"F","yr":2001,"k":"m","x":450,"t":1998.64},{"s":"F","yr":2003,"k":"m","x":400,"t":2001.36},{"s":"F","yr":2005,"k":"m","x":430,"t":2002.83},{"s":"F","yr":2007,"k":"m","x":440,"t":2004.76},{"s":"F","yr":2009,"k":"m","x":470,"t":2006.87},{"s":"F","yr":2011,"k":"m","x":470,"t":2009.18},{"s":"F","yr":2013,"k":"m","x":480,"t":2009.72},{"s":"F","yr":2015,"k":"m","x":440,"t":2013.49},{"s":"F","yr":2017,"k":"m","x":440,"t":2014.82},{"s":"F","yr":2019,"k":"m","x":440,"t":2016.02},{"s":"F","yr":2021,"k":"m","x":300,"t":2017.2},
{"s":"M","yr":1990,"k":"m","x":400,"t":1987.44},{"s":"M","yr":1993,"k":"m","x":439,"t":1990.71},{"s":"M","yr":1996,"k":"m","x":450,"t":1993.87},{"s":"M","yr":1999,"k":"m","x":470,"t":1996.87},{"s":"M","yr":2001,"k":"m","x":419,"t":2000.25},{"s":"M","yr":2003,"k":"m","x":389,"t":2001.54},{"s":"M","yr":2005,"k":"m","x":429,"t":2002.71},{"s":"M","yr":2007,"k":"m","x":439,"t":2004.76},{"s":"M","yr":2009,"k":"m","x":459,"t":2006.77},{"s":"M","yr":2011,"k":"m","x":449,"t":2008.71},{"s":"M","yr":2013,"k":"m","x":459,"t":2010.62},{"s":"M","yr":2015,"k":"m","x":419,"t":2013.87},{"s":"M","yr":2017,"k":"m","x":419,"t":2015.82},{"s":"M","yr":2019,"k":"m","x":419,"t":2015.98},{"s":"M","yr":2021,"k":"m","x":310,"t":2017.1},
{"s":"F","yr":1990,"k":"n","n":"n = 156"},{"s":"F","yr":1993,"k":"n","n":"n = 348"},{"s":"F","yr":1996,"k":"n","n":"n = 236"},{"s":"F","yr":1999,"k":"n","n":"n = 120"},{"s":"F","yr":2001,"k":"n","n":"n = 190"},{"s":"F","yr":2003,"k":"n","n":"n = 1290"},{"s":"F","yr":2005,"k":"n","n":"n = 657"},{"s":"F","yr":2007,"k":"n","n":"n = 455"},{"s":"F","yr":2009,"k":"n","n":"n = 352"},{"s":"F","yr":2011,"k":"n","n":"n = 561"},{"s":"F","yr":2013,"k":"n","n":"n = 433"},{"s":"F","yr":2015,"k":"n","n":"n = 683"},{"s":"F","yr":2017,"k":"n","n":"n = 440"},{"s":"F","yr":2019,"k":"n","n":"n = 28"},{"s":"F","yr":2021,"k":"n","n":"n = 83"},
{"s":"M","yr":1990,"k":"n","n":"n = 186"},{"s":"M","yr":1993,"k":"n","n":"n = 272"},{"s":"M","yr":1996,"k":"n","n":"n = 123"},{"s":"M","yr":1999,"k":"n","n":"n = 85"},{"s":"M","yr":2001,"k":"n","n":"n = 142"},{"s":"M","yr":2003,"k":"n","n":"n = 1080"},{"s":"M","yr":2005,"k":"n","n":"n = 767"},{"s":"M","yr":2007,"k":"n","n":"n = 622"},{"s":"M","yr":2009,"k":"n","n":"n = 467"},{"s":"M","yr":2011,"k":"n","n":"n = 332"},{"s":"M","yr":2013,"k":"n","n":"n = 216"},{"s":"M","yr":2015,"k":"n","n":"n = 345"},{"s":"M","yr":2017,"k":"n","n":"n = 206"},{"s":"M","yr":2019,"k":"n","n":"n = 17"},{"s":"M","yr":2021,"k":"n","n":"n = 111"}
]},
"facet":{"column":{"field":"s","type":"nominal","sort":["F","M"],"title":null,"header":{"labelExpr":"datum.value=='F'?'Female':'Male'","labelFontSize":22,"labelColor":"#1a1a1a","labelPadding":-20,"labelBaseline":"alphabetic"}}},
"spacing":24,
"spec":{
"width":538,"height":647,
"layer":[
{"encoding":{
"x":{"field":"x","type":"quantitative","title":null,"scale":{"domain":[200,631],"nice":false,"zero":false},"axis":{"values":[200,300,400,500,600],"labelPadding":5,"labelFlush":false}},
"y":{"field":"t","type":"quantitative","title":"Year","scale":{"domain":[1987.35,2021],"reverse":true,"nice":false,"zero":false},"axis":{"values":[1990,1993,1996,1999,2001,2003,2005,2007,2009,2011,2013,2015,2017,2019,2021],"format":"d","labelBaseline":"alphabetic","labelPadding":9,"labelOffset":1,"titlePadding":9}}
},
"layer":[
{"transform":[{"filter":"datum.yr==1990"}],"layer":[{"transform":[{"filter":"!datum.k"}],"layer":[{"mark":{"type":"area","fill":{"expr":"datum.s=='M'&&datum.yr<2021?gm:gf"}},"encoding":{"y2":{"field":"yr"}}},{"mark":"line"}]},{"transform":[{"filter":"datum.k=='m'"}],"mark":"rule","encoding":{"y":{"field":"yr","type":"quantitative","title":"Year"},"y2":{"field":"t"}}}]},
{"transform":[{"filter":"datum.yr==1993"}],"layer":[{"transform":[{"filter":"!datum.k"}],"layer":[{"mark":{"type":"area","fill":{"expr":"datum.s=='M'&&datum.yr<2021?gm:gf"}},"encoding":{"y2":{"field":"yr"}}},{"mark":"line"}]},{"transform":[{"filter":"datum.k=='m'"}],"mark":"rule","encoding":{"y":{"field":"yr","type":"quantitative","title":"Year"},"y2":{"field":"t"}}}]},
{"transform":[{"filter":"datum.yr==1996"}],"layer":[{"transform":[{"filter":"!datum.k"}],"layer":[{"mark":{"type":"area","fill":{"expr":"datum.s=='M'&&datum.yr<2021?gm:gf"}},"encoding":{"y2":{"field":"yr"}}},{"mark":"line"}]},{"transform":[{"filter":"datum.k=='m'"}],"mark":"rule","encoding":{"y":{"field":"yr","type":"quantitative","title":"Year"},"y2":{"field":"t"}}}]},
{"transform":[{"filter":"datum.yr==1999"}],"layer":[{"transform":[{"filter":"!datum.k"}],"layer":[{"mark":{"type":"area","fill":{"expr":"datum.s=='M'&&datum.yr<2021?gm:gf"}},"encoding":{"y2":{"field":"yr"}}},{"mark":"line"}]},{"transform":[{"filter":"datum.k=='m'"}],"mark":"rule","encoding":{"y":{"field":"yr","type":"quantitative","title":"Year"},"y2":{"field":"t"}}}]},
{"transform":[{"filter":"datum.yr==2001"}],"layer":[{"transform":[{"filter":"!datum.k"}],"layer":[{"mark":{"type":"area","fill":{"expr":"datum.s=='M'&&datum.yr<2021?gm:gf"}},"encoding":{"y2":{"field":"yr"}}},{"mark":"line"}]},{"transform":[{"filter":"datum.k=='m'"}],"mark":"rule","encoding":{"y":{"field":"yr","type":"quantitative","title":"Year"},"y2":{"field":"t"}}}]},
{"transform":[{"filter":"datum.yr==2003"}],"layer":[{"transform":[{"filter":"!datum.k"}],"layer":[{"mark":{"type":"area","fill":{"expr":"datum.s=='M'&&datum.yr<2021?gm:gf"}},"encoding":{"y2":{"field":"yr"}}},{"mark":"line"}]},{"transform":[{"filter":"datum.k=='m'"}],"mark":"rule","encoding":{"y":{"field":"yr","type":"quantitative","title":"Year"},"y2":{"field":"t"}}}]},
{"transform":[{"filter":"datum.yr==2005"}],"layer":[{"transform":[{"filter":"!datum.k"}],"layer":[{"mark":{"type":"area","fill":{"expr":"datum.s=='M'&&datum.yr<2021?gm:gf"}},"encoding":{"y2":{"field":"yr"}}},{"mark":"line"}]},{"transform":[{"filter":"datum.k=='m'"}],"mark":"rule","encoding":{"y":{"field":"yr","type":"quantitative","title":"Year"},"y2":{"field":"t"}}}]},
{"transform":[{"filter":"datum.yr==2007"}],"layer":[{"transform":[{"filter":"!datum.k"}],"layer":[{"mark":{"type":"area","fill":{"expr":"datum.s=='M'&&datum.yr<2021?gm:gf"}},"encoding":{"y2":{"field":"yr"}}},{"mark":"line"}]},{"transform":[{"filter":"datum.k=='m'"}],"mark":"rule","encoding":{"y":{"field":"yr","type":"quantitative","title":"Year"},"y2":{"field":"t"}}}]},
{"transform":[{"filter":"datum.yr==2009"}],"layer":[{"transform":[{"filter":"!datum.k"}],"layer":[{"mark":{"type":"area","fill":{"expr":"datum.s=='M'&&datum.yr<2021?gm:gf"}},"encoding":{"y2":{"field":"yr"}}},{"mark":"line"}]},{"transform":[{"filter":"datum.k=='m'"}],"mark":"rule","encoding":{"y":{"field":"yr","type":"quantitative","title":"Year"},"y2":{"field":"t"}}}]},
{"transform":[{"filter":"datum.yr==2011"}],"layer":[{"transform":[{"filter":"!datum.k"}],"layer":[{"mark":{"type":"area","fill":{"expr":"datum.s=='M'&&datum.yr<2021?gm:gf"}},"encoding":{"y2":{"field":"yr"}}},{"mark":"line"}]},{"transform":[{"filter":"datum.k=='m'"}],"mark":"rule","encoding":{"y":{"field":"yr","type":"quantitative","title":"Year"},"y2":{"field":"t"}}}]},
{"transform":[{"filter":"datum.yr==2013"}],"layer":[{"transform":[{"filter":"!datum.k"}],"layer":[{"mark":{"type":"area","fill":{"expr":"datum.s=='M'&&datum.yr<2021?gm:gf"}},"encoding":{"y2":{"field":"yr"}}},{"mark":"line"}]},{"transform":[{"filter":"datum.k=='m'"}],"mark":"rule","encoding":{"y":{"field":"yr","type":"quantitative","title":"Year"},"y2":{"field":"t"}}}]},
{"transform":[{"filter":"datum.yr==2015"}],"layer":[{"transform":[{"filter":"!datum.k"}],"layer":[{"mark":{"type":"area","fill":{"expr":"datum.s=='M'&&datum.yr<2021?gm:gf"}},"encoding":{"y2":{"field":"yr"}}},{"mark":"line"}]},{"transform":[{"filter":"datum.k=='m'"}],"mark":"rule","encoding":{"y":{"field":"yr","type":"quantitative","title":"Year"},"y2":{"field":"t"}}}]},
{"transform":[{"filter":"datum.yr==2017"}],"layer":[{"transform":[{"filter":"!datum.k"}],"layer":[{"mark":{"type":"area","fill":{"expr":"datum.s=='M'&&datum.yr<2021?gm:gf"}},"encoding":{"y2":{"field":"yr"}}},{"mark":"line"}]},{"transform":[{"filter":"datum.k=='m'"}],"mark":"rule","encoding":{"y":{"field":"yr","type":"quantitative","title":"Year"},"y2":{"field":"t"}}}]},
{"transform":[{"filter":"datum.yr==2019"}],"layer":[{"transform":[{"filter":"!datum.k"}],"layer":[{"mark":{"type":"area","fill":{"expr":"datum.s=='M'&&datum.yr<2021?gm:gf"}},"encoding":{"y2":{"field":"yr"}}},{"mark":"line"}]},{"transform":[{"filter":"datum.k=='m'"}],"mark":"rule","encoding":{"y":{"field":"yr","type":"quantitative","title":"Year"},"y2":{"field":"t"}}}]},
{"transform":[{"filter":"datum.yr==2021"}],"layer":[{"transform":[{"filter":"!datum.k"}],"layer":[{"mark":{"type":"area","fill":{"expr":"datum.s=='M'&&datum.yr<2021?gm:gf"}},"encoding":{"y2":{"field":"yr"}}},{"mark":"line"}]},{"transform":[{"filter":"datum.k=='m'"}],"mark":"rule","encoding":{"y":{"field":"yr","type":"quantitative","title":"Year"},"y2":{"field":"t"}}}]}
]},
{"transform":[{"filter":"datum.k=='n'"}],"mark":{"type":"text","fontSize":22,"align":"right","baseline":"alphabetic","dy":-11,"color":"#1a1a1a"},"encoding":{"x":{"datum":623,"type":"quantitative","title":null},"y":{"field":"yr","type":"quantitative","title":"Year"},"text":{"field":"n","type":"nominal"}}}
]
},
"config":{
"font":"Liberation Sans",
"view":{"stroke":null},
"area":{"interpolate":"monotone"},
"line":{"interpolate":"monotone","color":"#000000","strokeWidth":2.2,"strokeJoin":"round"},
"rule":{"color":"#ffffff","strokeWidth":2.5,"strokeDash":[2.5,10.8]},
"axis":{"grid":false,"domain":false,"tickColor":"#c8c8c8","tickSize":4,"tickWidth":1.5,"labelFontSize":22,"labelColor":"#222222","titleFontSize":26,"titleFontWeight":"normal","titleColor":"#1a1a1a"}
}
}
